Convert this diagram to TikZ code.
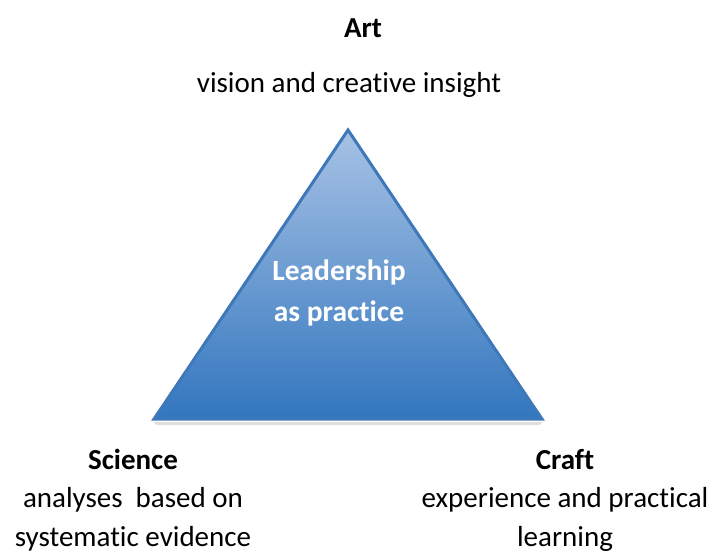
\documentclass[tikz,border=0pt]{standalone}
\usepackage{fontspec}
\setmainfont[Ligatures={NoCommon}]{Carlito}
\definecolor{edgeblue}{HTML}{3F78B8}
\definecolor{topblue}{HTML}{A7C2E5}
\definecolor{botblue}{HTML}{3276BE}
\tikzset{
  lbl/.style={font=\fontsize{29}{29}\selectfont, inner sep=0pt, anchor=base},
  head/.style={lbl, font=\fontsize{29}{29}\selectfont\bfseries},
  inner/.style={lbl, font=\fontsize{29.5}{29.5}\selectfont\bfseries, text=white}
}
\begin{document}
\begin{tikzpicture}[x=1pt,y=1pt]
\useasboundingbox (0,0) rectangle (712,552);
% triangle (y = 552 - pixel y)
\coordinate (apex) at (348,422);
\coordinate (bl) at (154,133);
\coordinate (br) at (542,133);
\fill[black!25, opacity=0.5] (154,130) -- (542,130) -- (540,127) -- (156,127) -- cycle;
\shade[top color=topblue, bottom color=botblue] (apex) -- (br) -- (bl) -- cycle;
\draw[edgeblue, line width=3pt, line join=miter] (apex) -- (br) -- (bl) -- cycle;
% texts
\node[head] (art) at (363,514) {Art};
\node[lbl] (vision) at (349,459) {vision and creative insight};
\node[inner] (lead1) at (339,271) {Leadership};
\node[inner] (lead2) at (339,230) {as practice};
\node[head] (sci) at (133,83) {Science};
\node[lbl] (sci1) at (133,45) {analyses\ \ based on};
\node[lbl] (sci2) at (133,6) {systematic evidence};
\node[head] (craft) at (565,83) {Craft};
\node[lbl] (craft1) at (565,45) {experience and practical};
\node[lbl] (craft2) at (565,6) {learning};
\end{tikzpicture}
\end{document}
